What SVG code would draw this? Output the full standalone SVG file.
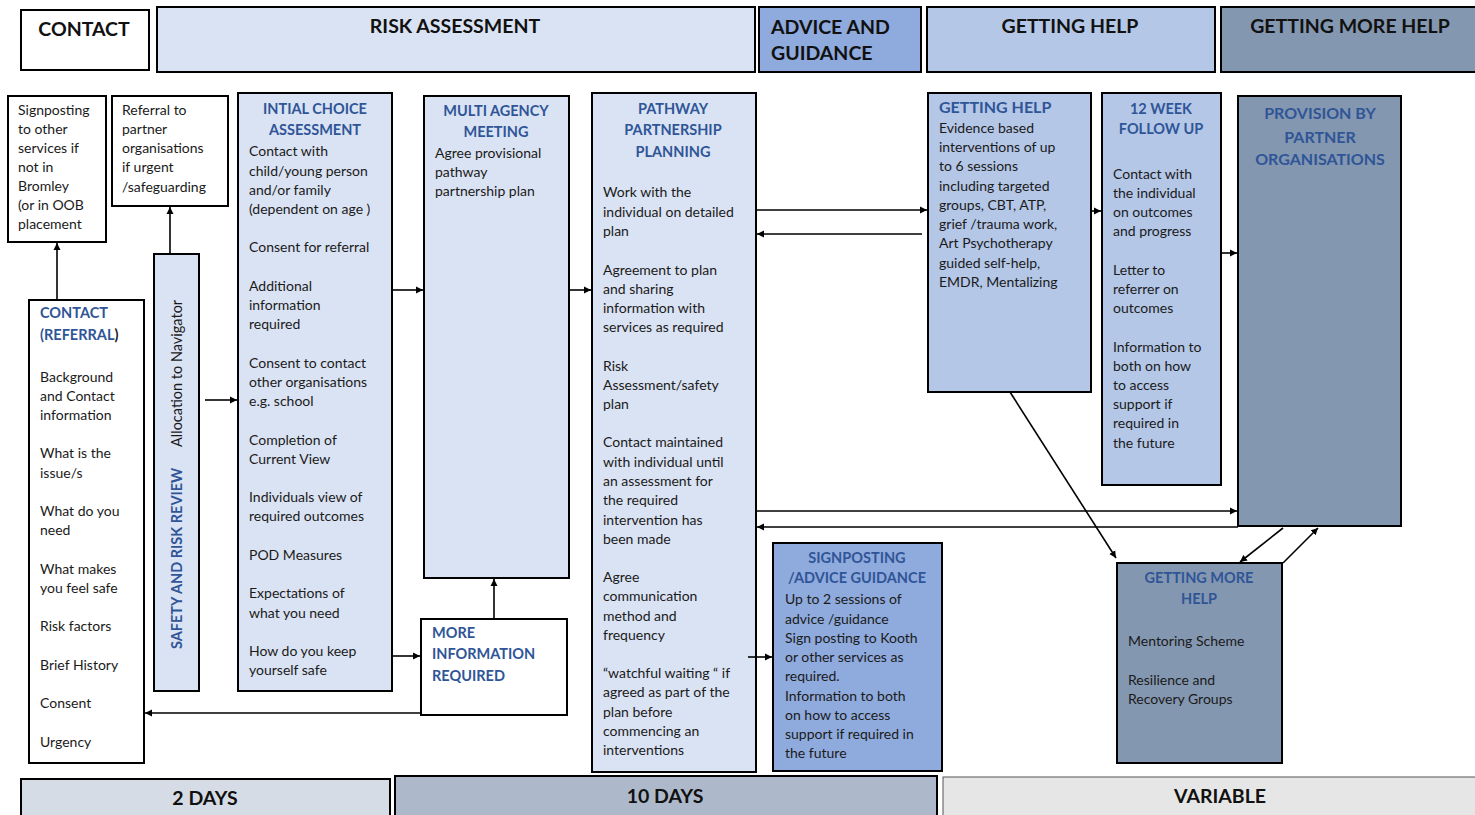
<svg xmlns="http://www.w3.org/2000/svg" width="1475" height="815" viewBox="0 0 1475 815">
<style>
.box{stroke:#000;stroke-width:2}
.hd{font-family:Lato,"Liberation Sans",sans-serif;font-weight:bold;font-size:19.5px;fill:#111}
.t{font-family:Lato,"Liberation Sans",sans-serif;font-size:14px;fill:#1a1a1a}
.tt{font-family:Lato,"Liberation Sans",sans-serif;font-size:14.5px;font-weight:bold;fill:#2f5597}
.c{text-anchor:middle}
.ln{stroke:#000;stroke-width:1.6;fill:none}
</style>
<defs>
<marker id="ah" markerWidth="8" markerHeight="8" refX="7" refY="4" orient="auto" markerUnits="userSpaceOnUse">
<path d="M0,0.5 L7,4 L0,7.5 Z" fill="#000"/>
</marker>
</defs>
<rect width="1475" height="815" fill="#fff"/>

<g id="header-contact"><rect class="box" x="21" y="10" width="128" height="60" fill="#fff"/><text class="hd c" x="84" y="36">CONTACT</text></g>
<g id="header-risk"><rect class="box" x="157" y="7" width="598" height="65" fill="#dae3f3"/><text class="hd c" x="455" y="33">RISK ASSESSMENT</text></g>
<g id="header-advice"><rect class="box" x="759" y="7" width="162" height="65" fill="#8faadc"/><text class="hd" x="771" y="34">ADVICE AND</text><text class="hd" x="771" y="60">GUIDANCE</text></g>
<g id="header-help"><rect class="box" x="927" y="7" width="288" height="65" fill="#b4c7e7"/><text class="hd c" x="1070" y="33">GETTING HELP</text></g>
<g id="header-morehelp"><rect class="box" x="1221" y="7" width="256" height="65" fill="#8497b0"/><text class="hd c" x="1350" y="33">GETTING MORE HELP</text></g>

<g id="signposting-other"><rect class="box" x="8" y="96" width="98" height="146" fill="#fff"/>
<text class="t"><tspan x="18" y="115">Signposting</tspan><tspan x="18" y="134">to other</tspan><tspan x="18" y="153">services if</tspan><tspan x="18" y="172">not in</tspan><tspan x="18" y="191">Bromley</tspan><tspan x="18" y="210">(or in OOB</tspan><tspan x="18" y="229">placement</tspan></text></g>

<g id="referral-partner"><rect class="box" x="112" y="96" width="116" height="110" fill="#fff"/>
<text class="t"><tspan x="122" y="115">Referral to</tspan><tspan x="122" y="134">partner</tspan><tspan x="122" y="153">organisations</tspan><tspan x="122" y="172">if urgent</tspan><tspan x="122" y="192">/safeguarding</tspan></text></g>

<g id="contact-referral"><rect class="box" x="29" y="300" width="115" height="463" fill="#fff"/>
<text class="tt"><tspan x="40" y="318">CONTACT</tspan><tspan x="40" y="340">(REFERRAL<tspan fill="#1a1a1a">)</tspan></tspan></text>
<text class="t"><tspan x="40" y="382">Background</tspan><tspan x="40" y="401">and Contact</tspan><tspan x="40" y="420">information</tspan><tspan x="40" y="458">What is the</tspan><tspan x="40" y="478">issue/s</tspan><tspan x="40" y="516">What do you</tspan><tspan x="40" y="535">need</tspan><tspan x="40" y="574">What makes</tspan><tspan x="40" y="593">you feel safe</tspan><tspan x="40" y="631">Risk factors</tspan><tspan x="40" y="670">Brief History</tspan><tspan x="40" y="708">Consent</tspan><tspan x="40" y="747">Urgency</tspan></text></g>

<g id="safety-review"><rect class="box" x="154" y="254" width="45" height="437" fill="#dae3f3"/>
<text class="tt" transform="translate(182,649) rotate(-90)" x="0" y="0">SAFETY AND RISK REVIEW</text>
<text class="t" transform="translate(182,447) rotate(-90)" x="0" y="0" style="font-size:14.5px">Allocation to Navigator</text></g>

<g id="initial-choice"><rect class="box" x="238" y="93" width="154" height="598" fill="#dae3f3"/>
<text class="tt c"><tspan x="315" y="114">INTIAL CHOICE</tspan><tspan x="315" y="135">ASSESSMENT</tspan></text>
<text class="t"><tspan x="249" y="156">Contact with</tspan><tspan x="249" y="176">child/young person</tspan><tspan x="249" y="195">and/or family</tspan><tspan x="249" y="214">(dependent on age )</tspan><tspan x="249" y="252">Consent for referral</tspan><tspan x="249" y="291">Additional</tspan><tspan x="249" y="310">information</tspan><tspan x="249" y="329">required</tspan><tspan x="249" y="368">Consent to contact</tspan><tspan x="249" y="387">other organisations</tspan><tspan x="249" y="406">e.g. school</tspan><tspan x="249" y="445">Completion of</tspan><tspan x="249" y="464">Current View</tspan><tspan x="249" y="502">Individuals view of</tspan><tspan x="249" y="521">required outcomes</tspan><tspan x="249" y="560">POD Measures</tspan><tspan x="249" y="598">Expectations of</tspan><tspan x="249" y="618">what you need</tspan><tspan x="249" y="656">How do you keep</tspan><tspan x="249" y="675">yourself safe</tspan></text></g>

<g id="multi-agency"><rect class="box" x="424" y="96" width="145" height="482" fill="#dae3f3"/>
<text class="tt c"><tspan x="496" y="116">MULTI AGENCY</tspan><tspan x="496" y="137">MEETING</tspan></text>
<text class="t"><tspan x="435" y="158">Agree provisional</tspan><tspan x="435" y="177">pathway</tspan><tspan x="435" y="196">partnership plan</tspan></text></g>

<g id="more-info"><rect class="box" x="421" y="619" width="146" height="96" fill="#fff"/>
<text class="tt"><tspan x="432" y="638">MORE</tspan><tspan x="432" y="659">INFORMATION</tspan><tspan x="432" y="681">REQUIRED</tspan></text></g>

<g id="pathway"><rect class="box" x="592" y="93" width="164" height="679" fill="#dae3f3"/>
<text class="tt c"><tspan x="673" y="114">PATHWAY</tspan><tspan x="673" y="135">PARTNERSHIP</tspan><tspan x="673" y="157">PLANNING</tspan></text>
<text class="t"><tspan x="603" y="197">Work with the</tspan><tspan x="603" y="217">individual on detailed</tspan><tspan x="603" y="236">plan</tspan><tspan x="603" y="275">Agreement to plan</tspan><tspan x="603" y="294">and sharing</tspan><tspan x="603" y="313">information with</tspan><tspan x="603" y="332">services as required</tspan><tspan x="603" y="371">Risk</tspan><tspan x="603" y="390">Assessment/safety</tspan><tspan x="603" y="409">plan</tspan><tspan x="603" y="447">Contact maintained</tspan><tspan x="603" y="467">with individual until</tspan><tspan x="603" y="486">an assessment for</tspan><tspan x="603" y="505">the required</tspan><tspan x="603" y="525">intervention has</tspan><tspan x="603" y="544">been made</tspan><tspan x="603" y="582">Agree</tspan><tspan x="603" y="601">communication</tspan><tspan x="603" y="621">method and</tspan><tspan x="603" y="640">frequency</tspan><tspan x="603" y="678">“watchful waiting “ if</tspan><tspan x="603" y="697">agreed as part of the</tspan><tspan x="603" y="717">plan before</tspan><tspan x="603" y="736">commencing an</tspan><tspan x="603" y="755">interventions</tspan></text></g>

<g id="signposting-advice"><rect class="box" x="773" y="543" width="169" height="228" fill="#8faadc"/>
<text class="tt c"><tspan x="857" y="563">SIGNPOSTING</tspan><tspan x="857" y="583">/ADVICE GUIDANCE</tspan></text>
<text class="t"><tspan x="785" y="604">Up to 2 sessions of</tspan><tspan x="785" y="624">advice /guidance</tspan><tspan x="785" y="643">Sign posting to Kooth</tspan><tspan x="785" y="662">or other services as</tspan><tspan x="785" y="681">required.</tspan><tspan x="785" y="701">Information to both</tspan><tspan x="785" y="720">on how to access</tspan><tspan x="785" y="739">support if required in</tspan><tspan x="785" y="758">the future</tspan></text></g>

<g id="getting-help"><rect class="box" x="928" y="93" width="163" height="299" fill="#b4c7e7"/>
<text class="tt" style="font-size:16px"><tspan x="939" y="113">GETTING HELP</tspan></text>
<text class="t"><tspan x="939" y="133">Evidence based</tspan><tspan x="939" y="152">interventions of up</tspan><tspan x="939" y="171">to 6 sessions</tspan><tspan x="939" y="191">including targeted</tspan><tspan x="939" y="210">groups, CBT, ATP,</tspan><tspan x="939" y="229">grief /trauma work,</tspan><tspan x="939" y="248">Art Psychotherapy</tspan><tspan x="939" y="268">guided self-help,</tspan><tspan x="939" y="287">EMDR, Mentalizing</tspan></text></g>

<g id="follow-up"><rect class="box" x="1102" y="93" width="119" height="392" fill="#b4c7e7"/>
<text class="tt c"><tspan x="1161" y="114">12 WEEK</tspan><tspan x="1161" y="134">FOLLOW UP</tspan></text>
<text class="t"><tspan x="1113" y="179">Contact with</tspan><tspan x="1113" y="198">the individual</tspan><tspan x="1113" y="217">on outcomes</tspan><tspan x="1113" y="236">and progress</tspan><tspan x="1113" y="275">Letter to</tspan><tspan x="1113" y="294">referrer on</tspan><tspan x="1113" y="313">outcomes</tspan><tspan x="1113" y="352">Information to</tspan><tspan x="1113" y="371">both on how</tspan><tspan x="1113" y="390">to access</tspan><tspan x="1113" y="409">support if</tspan><tspan x="1113" y="428">required in</tspan><tspan x="1113" y="448">the future</tspan></text></g>

<g id="provision"><rect class="box" x="1238" y="96" width="163" height="430" fill="#8497b0"/>
<text class="tt c" style="font-size:16px"><tspan x="1320" y="119">PROVISION BY</tspan><tspan x="1320" y="143">PARTNER</tspan><tspan x="1320" y="165">ORGANISATIONS</tspan></text></g>

<g id="getting-more-help"><rect class="box" x="1117" y="563" width="165" height="200" fill="#8497b0"/>
<text class="tt c"><tspan x="1199" y="583">GETTING MORE</tspan><tspan x="1199" y="604">HELP</tspan></text>
<text class="t"><tspan x="1128" y="646">Mentoring Scheme</tspan><tspan x="1128" y="685">Resilience and</tspan><tspan x="1128" y="704">Recovery Groups</tspan></text></g>

<g id="days-2"><rect class="box" x="21" y="779" width="369" height="40" fill="#d6dce5"/><text class="hd c" x="205" y="805">2 DAYS</text></g>
<g id="days-10"><rect class="box" x="395" y="776" width="542" height="43" fill="#adb9ca"/><text class="hd c" x="665" y="803">10 DAYS</text></g>
<g id="variable"><rect x="943" y="777" width="534" height="42" fill="#e7e6e6" stroke="#555" stroke-width="1"/><text class="hd c" x="1220" y="803">VARIABLE</text></g>

<g id="connectors">
<line class="ln" x1="57" y1="300" x2="57" y2="243" marker-end="url(#ah)"/>
<line class="ln" x1="170" y1="254" x2="170" y2="207" marker-end="url(#ah)"/>
<line class="ln" x1="205" y1="400" x2="237" y2="400" marker-end="url(#ah)"/>
<line class="ln" x1="392" y1="290" x2="423" y2="290" marker-end="url(#ah)"/>
<line class="ln" x1="392" y1="656" x2="420" y2="656" marker-end="url(#ah)"/>
<line class="ln" x1="494" y1="619" x2="494" y2="579" marker-end="url(#ah)"/>
<line class="ln" x1="421" y1="713" x2="145" y2="713" stroke-width="1.2" marker-end="url(#ah)"/>
<line class="ln" x1="569" y1="290" x2="591" y2="290" marker-end="url(#ah)"/>
<line class="ln" x1="756" y1="210" x2="927" y2="210" marker-end="url(#ah)"/>
<line class="ln" x1="922" y1="234" x2="757" y2="234" marker-end="url(#ah)"/>
<line class="ln" x1="748" y1="657" x2="772" y2="657" marker-end="url(#ah)"/>
<line class="ln" x1="756" y1="511" x2="1237" y2="511" marker-end="url(#ah)"/>
<line class="ln" x1="1238" y1="527" x2="757" y2="527" marker-end="url(#ah)"/>
<line class="ln" x1="1091" y1="211" x2="1101" y2="211" marker-end="url(#ah)"/>
<line class="ln" x1="1221" y1="253" x2="1237" y2="253" marker-end="url(#ah)"/>
<line class="ln" x1="1010" y1="392" x2="1116" y2="558" marker-end="url(#ah)"/>
<line class="ln" x1="1283" y1="528" x2="1240" y2="562" marker-end="url(#ah)"/>
<line class="ln" x1="1283" y1="563" x2="1318" y2="528" marker-end="url(#ah)"/>
</g>
</svg>
